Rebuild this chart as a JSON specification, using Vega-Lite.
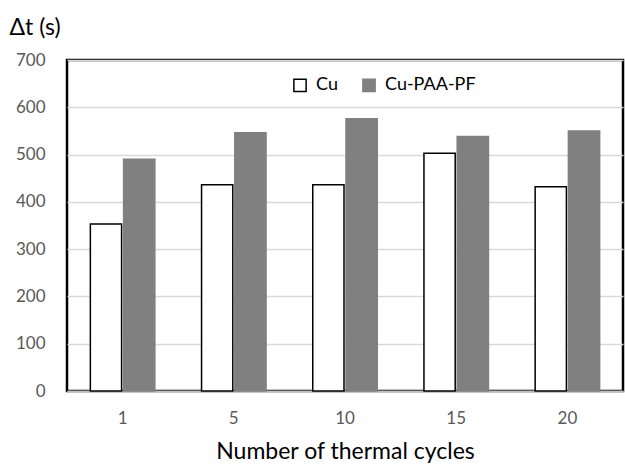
{
  "$schema": "https://vega.github.io/schema/vega-lite/v6.json",
  "width": 556,
  "height": 331,
  "autosize": {"type": "none"},
  "padding": {"left": 67, "top": 60, "right": 2, "bottom": 75},
  "background": "white",
  "config": {
    "font": "Lato",
    "view": {"stroke": "black", "strokeWidth": 2.5}
  },
  "data": {
    "values": [
      {"cycles": "1", "material": "Cu", "dt": 353},
      {"cycles": "1", "material": "Cu-PAA-PF", "dt": 490},
      {"cycles": "5", "material": "Cu", "dt": 436},
      {"cycles": "5", "material": "Cu-PAA-PF", "dt": 546},
      {"cycles": "10", "material": "Cu", "dt": 436},
      {"cycles": "10", "material": "Cu-PAA-PF", "dt": 576},
      {"cycles": "15", "material": "Cu", "dt": 503},
      {"cycles": "15", "material": "Cu-PAA-PF", "dt": 538},
      {"cycles": "20", "material": "Cu", "dt": 432},
      {"cycles": "20", "material": "Cu-PAA-PF", "dt": 550}
    ]
  },
  "mark": {"type": "bar", "strokeWidth": 1.5},
  "encoding": {
    "x": {
      "field": "cycles",
      "type": "ordinal",
      "sort": ["1", "5", "10", "15", "20"],
      "scale": {"paddingInner": 0.42, "paddingOuter": 0.21},
      "axis": {
        "title": "Number of thermal cycles",
        "titleFontSize": 23,
        "titleFontWeight": "normal",
        "titleColor": "#000000",
        "titlePadding": 14,
        "labelAngle": 0,
        "labelFontSize": 17,
        "labelColor": "#595959",
        "labelPadding": 19,
        "ticks": false,
        "domainColor": "#bfbfbf",
        "domainWidth": 1.5
      }
    },
    "xOffset": {
      "field": "material",
      "type": "nominal",
      "scale": {"paddingInner": 0.06}
    },
    "y": {
      "field": "dt",
      "type": "quantitative",
      "scale": {"domain": [0, 700]},
      "axis": {
        "title": "Δt (s)",
        "titleAngle": 0,
        "titleX": -58,
        "titleY": -33,
        "titleAlign": "left",
        "titleBaseline": "middle",
        "titleFontSize": 23,
        "titleFontWeight": "normal",
        "titleColor": "#000000",
        "values": [0, 100, 200, 300, 400, 500, 600, 700],
        "labelFontSize": 17,
        "labelColor": "#595959",
        "labelPadding": 22,
        "ticks": false,
        "domain": false,
        "gridColor": "#d9d9d9",
        "gridWidth": 1.5
      }
    },
    "color": {
      "field": "material",
      "type": "nominal",
      "scale": {"range": ["#ffffff", "#808080"]},
      "legend": {
        "title": null,
        "orient": "none",
        "legendX": 224,
        "legendY": 16,
        "direction": "horizontal",
        "symbolType": "square",
        "symbolSize": 150,
        "symbolStrokeWidth": 1.5,
        "labelFontSize": 18,
        "labelColor": "#000000",
        "labelOffset": 7,
        "columnPadding": 21
      }
    },
    "stroke": {
      "field": "material",
      "type": "nominal",
      "scale": {"range": ["#000000", "#808080"]},
      "legend": {
        "title": null,
        "orient": "none",
        "legendX": 224,
        "legendY": 16,
        "direction": "horizontal",
        "symbolType": "square",
        "symbolSize": 150,
        "symbolStrokeWidth": 1.5,
        "labelFontSize": 18,
        "labelColor": "#000000",
        "labelOffset": 7,
        "columnPadding": 21
      }
    }
  }
}
